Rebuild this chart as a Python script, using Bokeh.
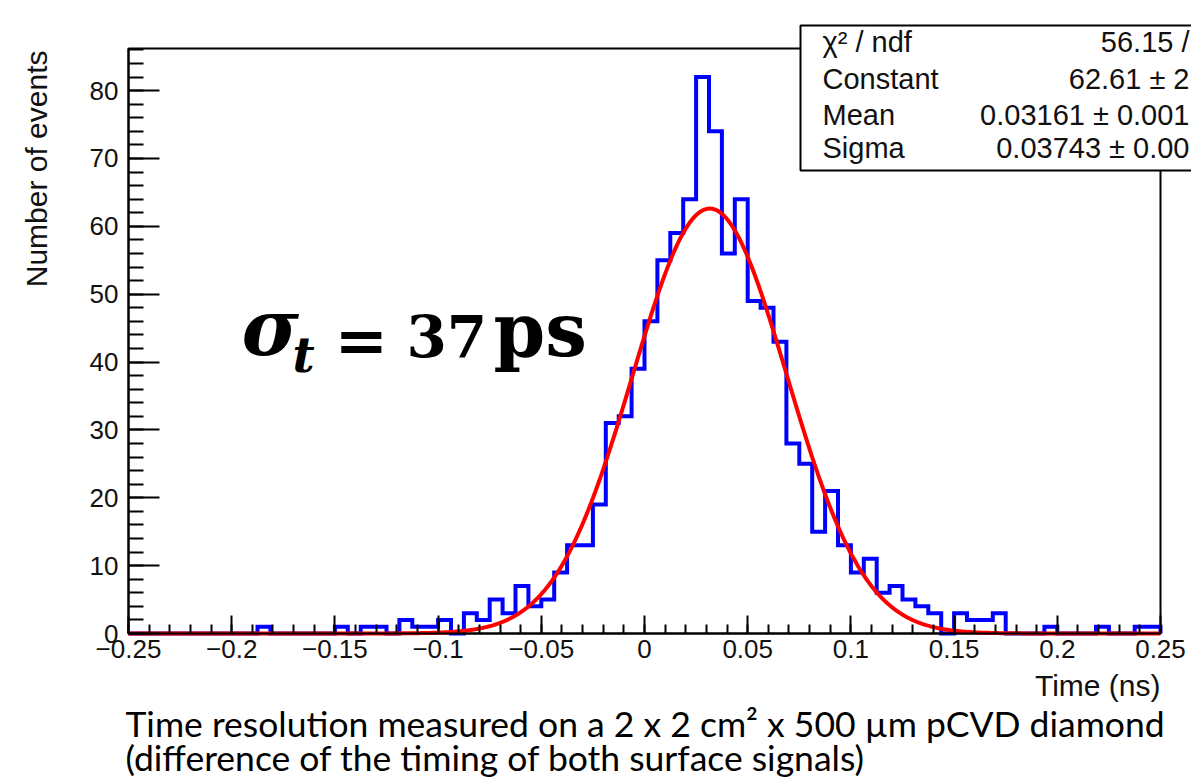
import numpy as np
from bokeh.plotting import figure
from bokeh.models import Label, BoxAnnotation, FixedTicker, Range1d
from bokeh.embed import file_html
from bokeh.resources import INLINE

# ---------------- data ----------------
hist_low = -0.25
hist_high = 0.25
counts = [
    0, 0, 0, 0, 0, 0, 0, 0, 0, 0,
    1, 0, 0, 0, 0, 0, 1, 0, 1, 1,
    0, 2, 1, 1, 2, 0, 3, 2, 5, 3,
    7, 4, 5, 9, 13, 13, 19, 31, 32, 39,
    46, 55, 59, 64, 82, 74, 56, 64, 49, 48,
    43, 28, 25, 15, 21, 13, 9, 11, 6, 7,
    5, 4, 3, 0, 3, 2, 2, 3, 0, 0,
    0, 1, 0, 0, 0, 1, 0, 0, 1, 1,
]
fit_constant = 62.61
fit_mean = 0.03161
fit_sigma = 0.03743

x_ticks = [-0.25, -0.2, -0.15, -0.1, -0.05, 0.0, 0.05, 0.1, 0.15, 0.2, 0.25]
x_tick_labels = ["\u22120.25", "\u22120.2", "\u22120.15", "\u22120.1", "\u22120.05",
                 "0", "0.05", "0.1", "0.15", "0.2", "0.25"]
y_ticks = [0, 10, 20, 30, 40, 50, 60, 70, 80]
y_tick_labels = ["0", "10", "20", "30", "40", "50", "60", "70", "80"]

stats_names = ["\u03c7\u00b2 / ndf", "Constant", "Mean", "Sigma"]
stats_values = ["56.15 /", "62.61 \u00b1 2", "0.03161 \u00b1 0.001", "0.03743 \u00b1 0.00"]

x_label = "Time (ns)"
y_label = "Number of events"
caption_lines = [
    "Time resolution measured on a 2 x 2 cm\u00b2 x 500 \u00b5m pCVD diamond",
    "(difference of the timing of both surface signals)",
]

# ---------------- layout (page pixels) ----------------
W, H = 1191, 782
Y_TOP = 86.2
FR_L, FR_R, FR_T, FR_B = 128, 1160, 48, 633
SX = (hist_high - hist_low) / (FR_R - FR_L)
SY = Y_TOP / (FR_B - FR_T)
BASE_K = 0.39  # empirical baseline correction (em)


def dx(px):
    return hist_low + (px - FR_L) * SX


def dy(py):
    return (FR_B - py) * SY


def by(py, size):
    return dy(py - BASE_K * size)


p = figure(width=W, height=H, output_backend="svg", toolbar_location=None,
           x_range=Range1d(hist_low - FR_L * SX, hist_high + (W - FR_R) * SX),
           y_range=Range1d(-(H - FR_B) * SY, Y_TOP + FR_T * SY),
           min_border=0, min_border_left=0, min_border_right=0,
           min_border_top=0, min_border_bottom=0,
           background_fill_color="white", border_fill_color="white")
p.grid.visible = False
p.outline_line_color = None

# frame (top / right edges; left / bottom are the axes)
p.add_layout(BoxAnnotation(left=hist_low, right=hist_high, bottom=0, top=Y_TOP,
                           fill_alpha=0, line_color="black", line_alpha=1.0,
                           line_width=2, level="underlay"))

edges = np.linspace(hist_low, hist_high, len(counts) + 1)
step_x = [edges[0]] + list(edges)
step_y = [0] + list(counts) + [0]
p.step(step_x, step_y, mode="after", line_color="#0000ff", line_width=4,
       line_join="miter")

fx = np.linspace(hist_low, hist_high, 1200)
fy = fit_constant * np.exp(-0.5 * ((fx - fit_mean) / fit_sigma) ** 2)
p.line(fx, fy, line_color="#ff0000", line_width=4)

# axes
xa = p.xaxis[0]
xa.ticker = FixedTicker(ticks=x_ticks,
                        minor_ticks=list(np.round(np.arange(-0.25, 0.2501, 0.01), 3)))
xa.major_label_overrides = dict(zip(x_ticks, x_tick_labels))
xa.fixed_location = 0
xa.bounds = (hist_low, hist_high)
ya = p.yaxis[0]
ya.ticker = FixedTicker(ticks=y_ticks, minor_ticks=list(range(0, 87, 2)))
ya.major_label_overrides = dict(zip(y_ticks, y_tick_labels))
ya.fixed_location = hist_low
ya.bounds = (0, Y_TOP)
for ax, maj, mnr in ((xa, 18, 9), (ya, 31, 15)):
    ax.axis_line_color = "black"
    ax.axis_line_width = 2
    ax.major_tick_in = maj
    ax.major_tick_out = 0
    ax.minor_tick_in = mnr
    ax.minor_tick_out = 0
    ax.major_tick_line_width = 2
    ax.minor_tick_line_width = 2
    ax.major_tick_line_color = "black"
    ax.minor_tick_line_color = "black"
    ax.major_label_text_font = "Liberation Sans"
    ax.major_label_text_font_size = "26px"
    ax.major_label_text_color = "#111111"
xa.major_label_standoff = 6
ya.major_label_standoff = 10

TXT = "#111111"
# axis titles
p.add_layout(Label(x=dx(1160), y=by(697, 30), text=x_label, text_align="right",
                   text_baseline="alphabetic", text_font="Liberation Sans",
                   text_font_size="30px", text_color=TXT))
p.add_layout(Label(x=dx(48 - BASE_K * 30), y=dy(50), text=y_label, text_align="right",
                   text_baseline="alphabetic", angle=np.pi / 2,
                   text_font="Liberation Sans", text_font_size="30px",
                   text_color=TXT))

# stats box
p.add_layout(BoxAnnotation(left=dx(800), right=dx(1300), top=dy(25), bottom=dy(170),
                           fill_color="white", fill_alpha=1.0,
                           line_color="black", line_alpha=1.0, line_width=2,
                           level="overlay"))
for i, (nm, vl) in enumerate(zip(stats_names, stats_values)):
    base = [53, 90, 126, 159][i]
    p.add_layout(Label(x=dx(822), y=by(base, 29), text=nm, text_align="left",
                       text_baseline="alphabetic", text_font="Liberation Sans",
                       text_font_size="29px", text_color=TXT, level="overlay"))
    p.add_layout(Label(x=dx(1189), y=by(base, 29), text=vl, text_align="right",
                       text_baseline="alphabetic", text_font="Liberation Sans",
                       text_font_size="29px", text_color=TXT, level="overlay"))

# sigma_t annotation
SERIF = "DejaVu Serif"
p.add_layout(Label(x=dx(241), y=by(357, 78), text="\u03c3", text_font=SERIF,
                   text_font_style="bold italic", text_font_size="78px",
                   text_baseline="alphabetic", text_color="black"))
p.add_layout(Label(x=dx(292), y=by(373, 48), text="t", text_font=SERIF,
                   text_font_style="bold italic", text_font_size="48px",
                   text_baseline="alphabetic", text_color="black"))
p.add_layout(Label(x=dx(334), y=dy(339), text="=", text_font=SERIF,
                   text_font_style="bold", text_font_size="64px",
                   text_baseline="middle", text_color="black"))
p.add_layout(Label(x=dx(406), y=by(358, 58), text="37", text_font=SERIF,
                   text_font_style="bold", text_font_size="58px",
                   text_baseline="alphabetic", text_color="black"))
p.add_layout(Label(x=dx(493), y=by(358, 74), text="ps", text_font=SERIF,
                   text_font_style="bold", text_font_size="74px",
                   text_baseline="alphabetic", text_color="black"))

# caption
CAP_FONT = "Lato"
p.add_layout(Label(x=dx(125), y=by(737, 35.5), text=caption_lines[0], text_align="left",
                   text_baseline="alphabetic", text_font=CAP_FONT,
                   text_font_size="35.5px", text_color="black"))
p.add_layout(Label(x=dx(125), y=by(771, 35.5), text=caption_lines[1], text_align="left",
                   text_baseline="alphabetic", text_font=CAP_FONT,
                   text_font_size="35.5px", text_color="black"))

open("out.html", "w").write(file_html(p, INLINE))
